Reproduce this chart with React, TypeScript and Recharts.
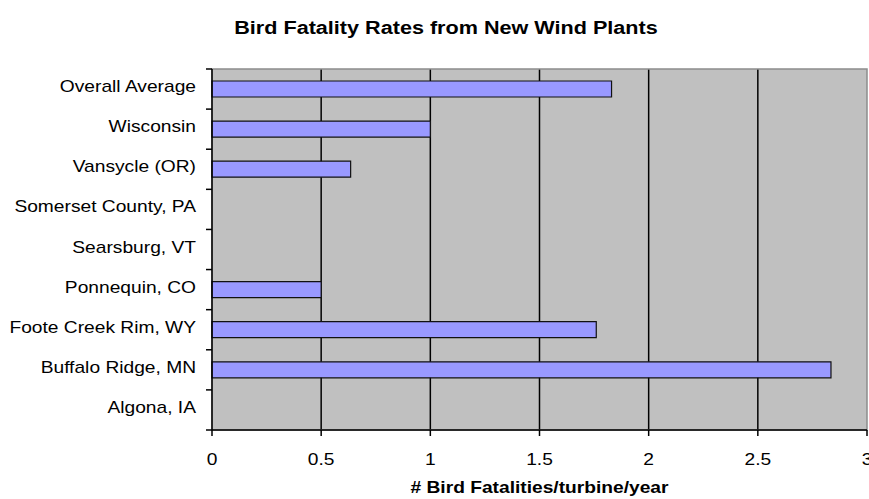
import React from 'react';
import { BarChart, Bar, XAxis, YAxis, CartesianGrid, ReferenceArea } from 'recharts';

const categories = [
  'Overall Average',
  'Wisconsin',
  'Vansycle (OR)',
  'Somerset County, PA',
  'Searsburg, VT',
  'Ponnequin, CO',
  'Foote Creek Rim, WY',
  'Buffalo Ridge, MN',
  'Algona, IA',
];
const fatalityRates: (number | null)[] = [1.83, 1.0, 0.635, null, null, 0.5, 1.76, 2.835, null];
const xTicks = [0, 0.5, 1, 1.5, 2, 2.5, 3];
const xDomain: [number, number] = [0, 3];
const gridValues = [0.5, 1, 1.5, 2, 2.5];

const data = categories.map((name, i) => ({ name, value: fatalityRates[i] }));

const FONT = '"Liberation Sans", Arial, sans-serif';

const gridGen = (p: any) => {
  const sc = p && p.xAxis && p.xAxis.scale;
  if (typeof sc === 'function') return gridValues.map((v) => sc(v));
  if (sc && typeof sc.map === 'function') return gridValues.map((v) => sc.map(v));
  const off = p.offset;
  return gridValues.map((v) => off.left + (off.width * (v - xDomain[0])) / (xDomain[1] - xDomain[0]));
};

const YTick = (props: any) => {
  const { x, y, payload, index, visibleTicksCount } = props;
  const off = payload && typeof payload.offset === 'number' && payload.offset > 0 ? payload.offset : 20;
  const ax = x + 8;
  return (
    <g>
      <line x1={ax - 6} x2={ax} y1={y - off} y2={y - off} stroke="#000" strokeWidth={1.5} />
      {index === visibleTicksCount - 1 && (
        <line x1={ax - 6} x2={ax} y1={y + off} y2={y + off} stroke="#000" strokeWidth={1.5} />
      )}
      <g transform={`translate(${ax - 16},${y + 3}) scale(1.2,1)`}>
        <text x={0} y={0} textAnchor="end" fontSize={16} fontFamily={FONT} fill="#000">
          {payload.value}
        </text>
      </g>
    </g>
  );
};

const XTick = (props: any) => {
  const { x, y, payload } = props;
  return (
    <g transform={`translate(${x},${y + 27}) scale(1.2,1)`}>
      <text x={0} y={0} textAnchor="middle" fontSize={16} fontFamily={FONT} fill="#000">
        {String(payload.value)}
      </text>
    </g>
  );
};

const XLabel = (props: any) => {
  const vb = props.viewBox || { x: 212, y: 430, width: 655 };
  const cx = vb.x + vb.width / 2;
  return (
    <g transform={`translate(${cx},${vb.y + 63}) scale(1.2,1)`}>
      <text x={0} y={0} textAnchor="middle" fontSize={16} fontWeight="bold" fontFamily={FONT} fill="#000">
        # Bird Fatalities/turbine/year
      </text>
    </g>
  );
};

export default function App() {
  return (
    <div style={{ position: 'absolute', left: 0, top: 0, width: 869, height: 499, background: '#fff' }}>
      <div
        style={{
          position: 'absolute',
          left: 0,
          top: 19,
          width: 892,
          textAlign: 'center',
          fontFamily: FONT,
          fontSize: 18,
          lineHeight: '18px',
          fontWeight: 'bold',
          transform: 'scaleX(1.2)',
          transformOrigin: '446px 0',
          whiteSpace: 'nowrap',
        }}
      >
        Bird Fatality Rates from New Wind Plants
      </div>
      <BarChart
        width={869}
        height={499}
        data={data}
        layout="vertical"
        margin={{ top: 69, right: 2, bottom: 0, left: 0 }}
      >
        <CartesianGrid
          horizontal={false}
          vertical={true}
          fill="#c0c0c0"
          fillOpacity={1}
          stroke="#000"
          strokeWidth={1.5}
          verticalCoordinatesGenerator={gridGen}
        />
        <ReferenceArea x1={0} x2={3} fill="none" stroke="#8c8c8c" strokeWidth={1.5} ifOverflow="visible" />
        <XAxis
          type="number"
          domain={xDomain}
          ticks={xTicks}
          interval={0}
          height={69}
          axisLine={{ stroke: '#000', strokeWidth: 1.5 }}
          tickLine={{ stroke: '#000', strokeWidth: 1.5 }}
          tickSize={6}
          tickMargin={2}
          tick={<XTick />}
          label={<XLabel />}
        />
        <YAxis
          type="category"
          dataKey="name"
          width={212}
          interval={0}
          axisLine={{ stroke: '#000', strokeWidth: 1.5 }}
          tickLine={false}
          tickSize={6}
          tickMargin={2}
          tick={<YTick />}
        />
        <Bar
          dataKey="value"
          fill="#9999ff"
          stroke="#111"
          strokeWidth={1.2}
          barSize={16}
          isAnimationActive={false}
        />
      </BarChart>
    </div>
  );
}
